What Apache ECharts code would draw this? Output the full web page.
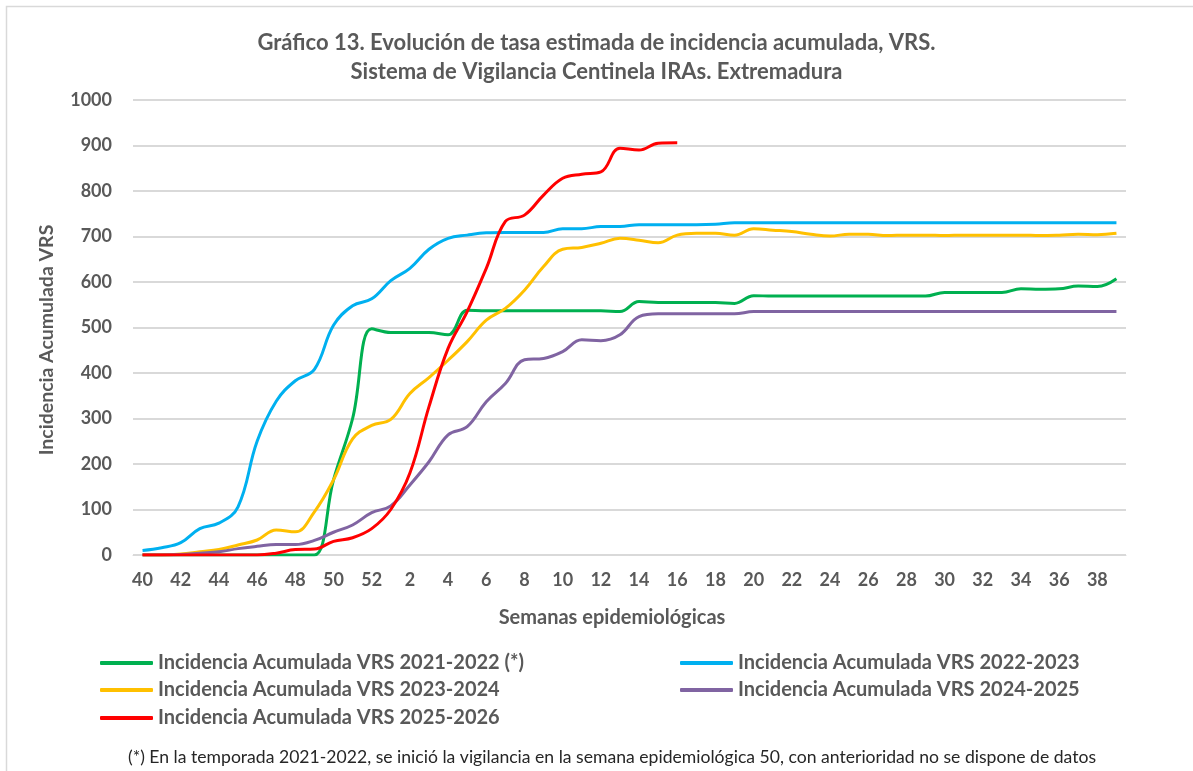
<!DOCTYPE html>
<html>
<head>
<meta charset="utf-8">
<script src="https://cdn.jsdelivr.net/npm/echarts@6/dist/echarts.min.js"></script>
<style>
html,body{margin:0;padding:0;background:#fff;}
#chart{width:1193px;height:771px;}
</style>
</head>
<body>
<div id="chart"></div>
<script>
const weeks = ['40','41','42','43','44','45','46','47','48','49','50','51','52',
  '1','2','3','4','5','6','7','8','9','10','11','12','13','14','15','16','17','18','19','20',
  '21','22','23','24','25','26','27','28','29','30','31','32','33','34','35','36','37','38','39'];

const yTicks = [0,100,200,300,400,500,600,700,800,900,1000];

const names = [
  'Incidencia Acumulada VRS 2021-2022 (*)',
  'Incidencia Acumulada VRS 2022-2023',
  'Incidencia Acumulada VRS 2023-2024',
  'Incidencia Acumulada VRS 2024-2025',
  'Incidencia Acumulada VRS 2025-2026'
];

const s2122 = [0,0,0,0,0,0,0,0,0,0,165,300,497,489,489,489,484,538,537,537,537,537,537,537,537,535,557,555,555,555,555,553,570,569,569,569,569,569,569,569,569,569,577,577,577,577,585,584,585,591,590,607];
const s2223 = [10,16,27,58,70,106,250,338,383,408,505,548,563,603,630,672,696,703,708,709,709,709,717,717,722,722,726,726,726,726,727,730,730,730,730,730,730,730,730,730,730,730,730,730,730,730,730,730,730,730,730,730];
const s2324 = [0,0,2,7,12,22,33,55,51,95,165,255,285,298,355,390,428,469,516,542,582,634,672,676,685,696,692,686,703,707,707,703,717,714,711,705,701,705,705,702,703,703,702,703,703,703,703,702,703,705,704,707];
const s2425 = [0,0,1,4,7,14,19,23,23,32,50,66,93,108,154,205,264,282,337,377,429,432,447,473,471,484,524,530,530,530,530,530,535,535,535,535,535,535,535,535,535,535,535,535,535,535,535,535,535,535,535,535];
const s2526 = [0,0,0,0,0,0,0,4,12,13,30,38,58,100,180,326,454,535,630,733,747,791,828,837,842,894,890,905,906];

const colors = ['#00B050','#00B0F0','#FFC000','#8064A2','#FF0000'];
const seriesData = [s2122, s2223, s2324, s2425, s2526];

const FONT = 'Lato, "Open Sans", sans-serif';
const GRAY = '#595959';

const legendPos = [
  {left: 100, top: 651},
  {left: 680, top: 651},
  {left: 100, top: 678},
  {left: 680, top: 678},
  {left: 100, top: 706}
];

const chart = echarts.init(document.getElementById('chart'), null, {renderer: 'canvas'});

const option = {
  backgroundColor: '#fff',
  animation: false,
  title: {
    text: 'Gráfico 13. Evolución de tasa estimada de incidencia acumulada, VRS.\nSistema de Vigilancia Centinela IRAs. Extremadura',
    left: 'center',
    top: 23,
    textStyle: {fontFamily: FONT, fontWeight: 'bold', fontSize: 22, color: GRAY, lineHeight: 29}
  },
  legend: names.map((n, i) => ({
    data: [n],
    left: legendPos[i].left,
    top: legendPos[i].top,
    padding: 0,
    icon: 'roundRect',
    itemWidth: 53,
    itemHeight: 4,
    itemGap: 0,
    selectedMode: false,
    textStyle: {fontFamily: FONT, fontWeight: 'bold', fontSize: 20, color: GRAY, lineHeight: 24, padding: [0,0,0,0]}
  })),
  grid: {left: 133, right: 67, top: 100, bottom: 216, containLabel: false},
  xAxis: {
    type: 'category',
    data: weeks,
    boundaryGap: true,
    axisLine: {lineStyle: {color: '#d9d9d9', width: 1}},
    axisTick: {show: false},
    axisLabel: {interval: 1, margin: 16, fontFamily: FONT, fontWeight: 'bold', fontSize: 18, color: GRAY},
    splitLine: {show: false}
  },
  yAxis: {
    type: 'value',
    min: yTicks[0],
    max: yTicks[yTicks.length - 1],
    interval: 100,
    axisLine: {show: false},
    axisTick: {show: false},
    axisLabel: {margin: 21, fontFamily: FONT, fontWeight: 'bold', fontSize: 18, color: GRAY,
      formatter: function (v) { return String(v); }},
    splitLine: {lineStyle: {color: '#d9d9d9', width: 2}}
  },
  series: seriesData.map((d, i) => ({
    name: names[i],
    type: 'line',
    data: d,
    smooth: 0.4,
    symbol: 'none',
    lineStyle: {color: colors[i], width: 3},
    itemStyle: {color: colors[i]},
    z: 2 + i
  })),
  graphic: [
    {type: 'rect', left: 4, top: 4, z: -10, silent: true,
     shape: {width: 1250, height: 850}, style: {fill: 'none', stroke: '#d9d9d9', lineWidth: 1.5}},
    {type: 'text', x: 47, y: 340, rotation: Math.PI / 2, silent: true,
     style: {text: 'Incidencia Acumulada VRS', fontFamily: FONT, fontWeight: 'bold', fontSize: 19.5,
       fill: GRAY, align: 'center', verticalAlign: 'middle'}},
    {type: 'text', x: 612, y: 618, silent: true,
     style: {text: 'Semanas epidemiológicas', fontFamily: FONT, fontWeight: 'bold', fontSize: 20,
       fill: GRAY, align: 'center', verticalAlign: 'middle'}},
    {type: 'text', x: 612, y: 757, silent: true,
     style: {text: '(*) En la temporada 2021-2022, se inició la vigilancia en la semana epidemiológica 50, con anterioridad no se dispone de datos',
       fontFamily: FONT, fontSize: 17.6, fill: '#262626', align: 'center', verticalAlign: 'middle'}}
  ]
};
chart.setOption(option);
</script>
</body>
</html>
